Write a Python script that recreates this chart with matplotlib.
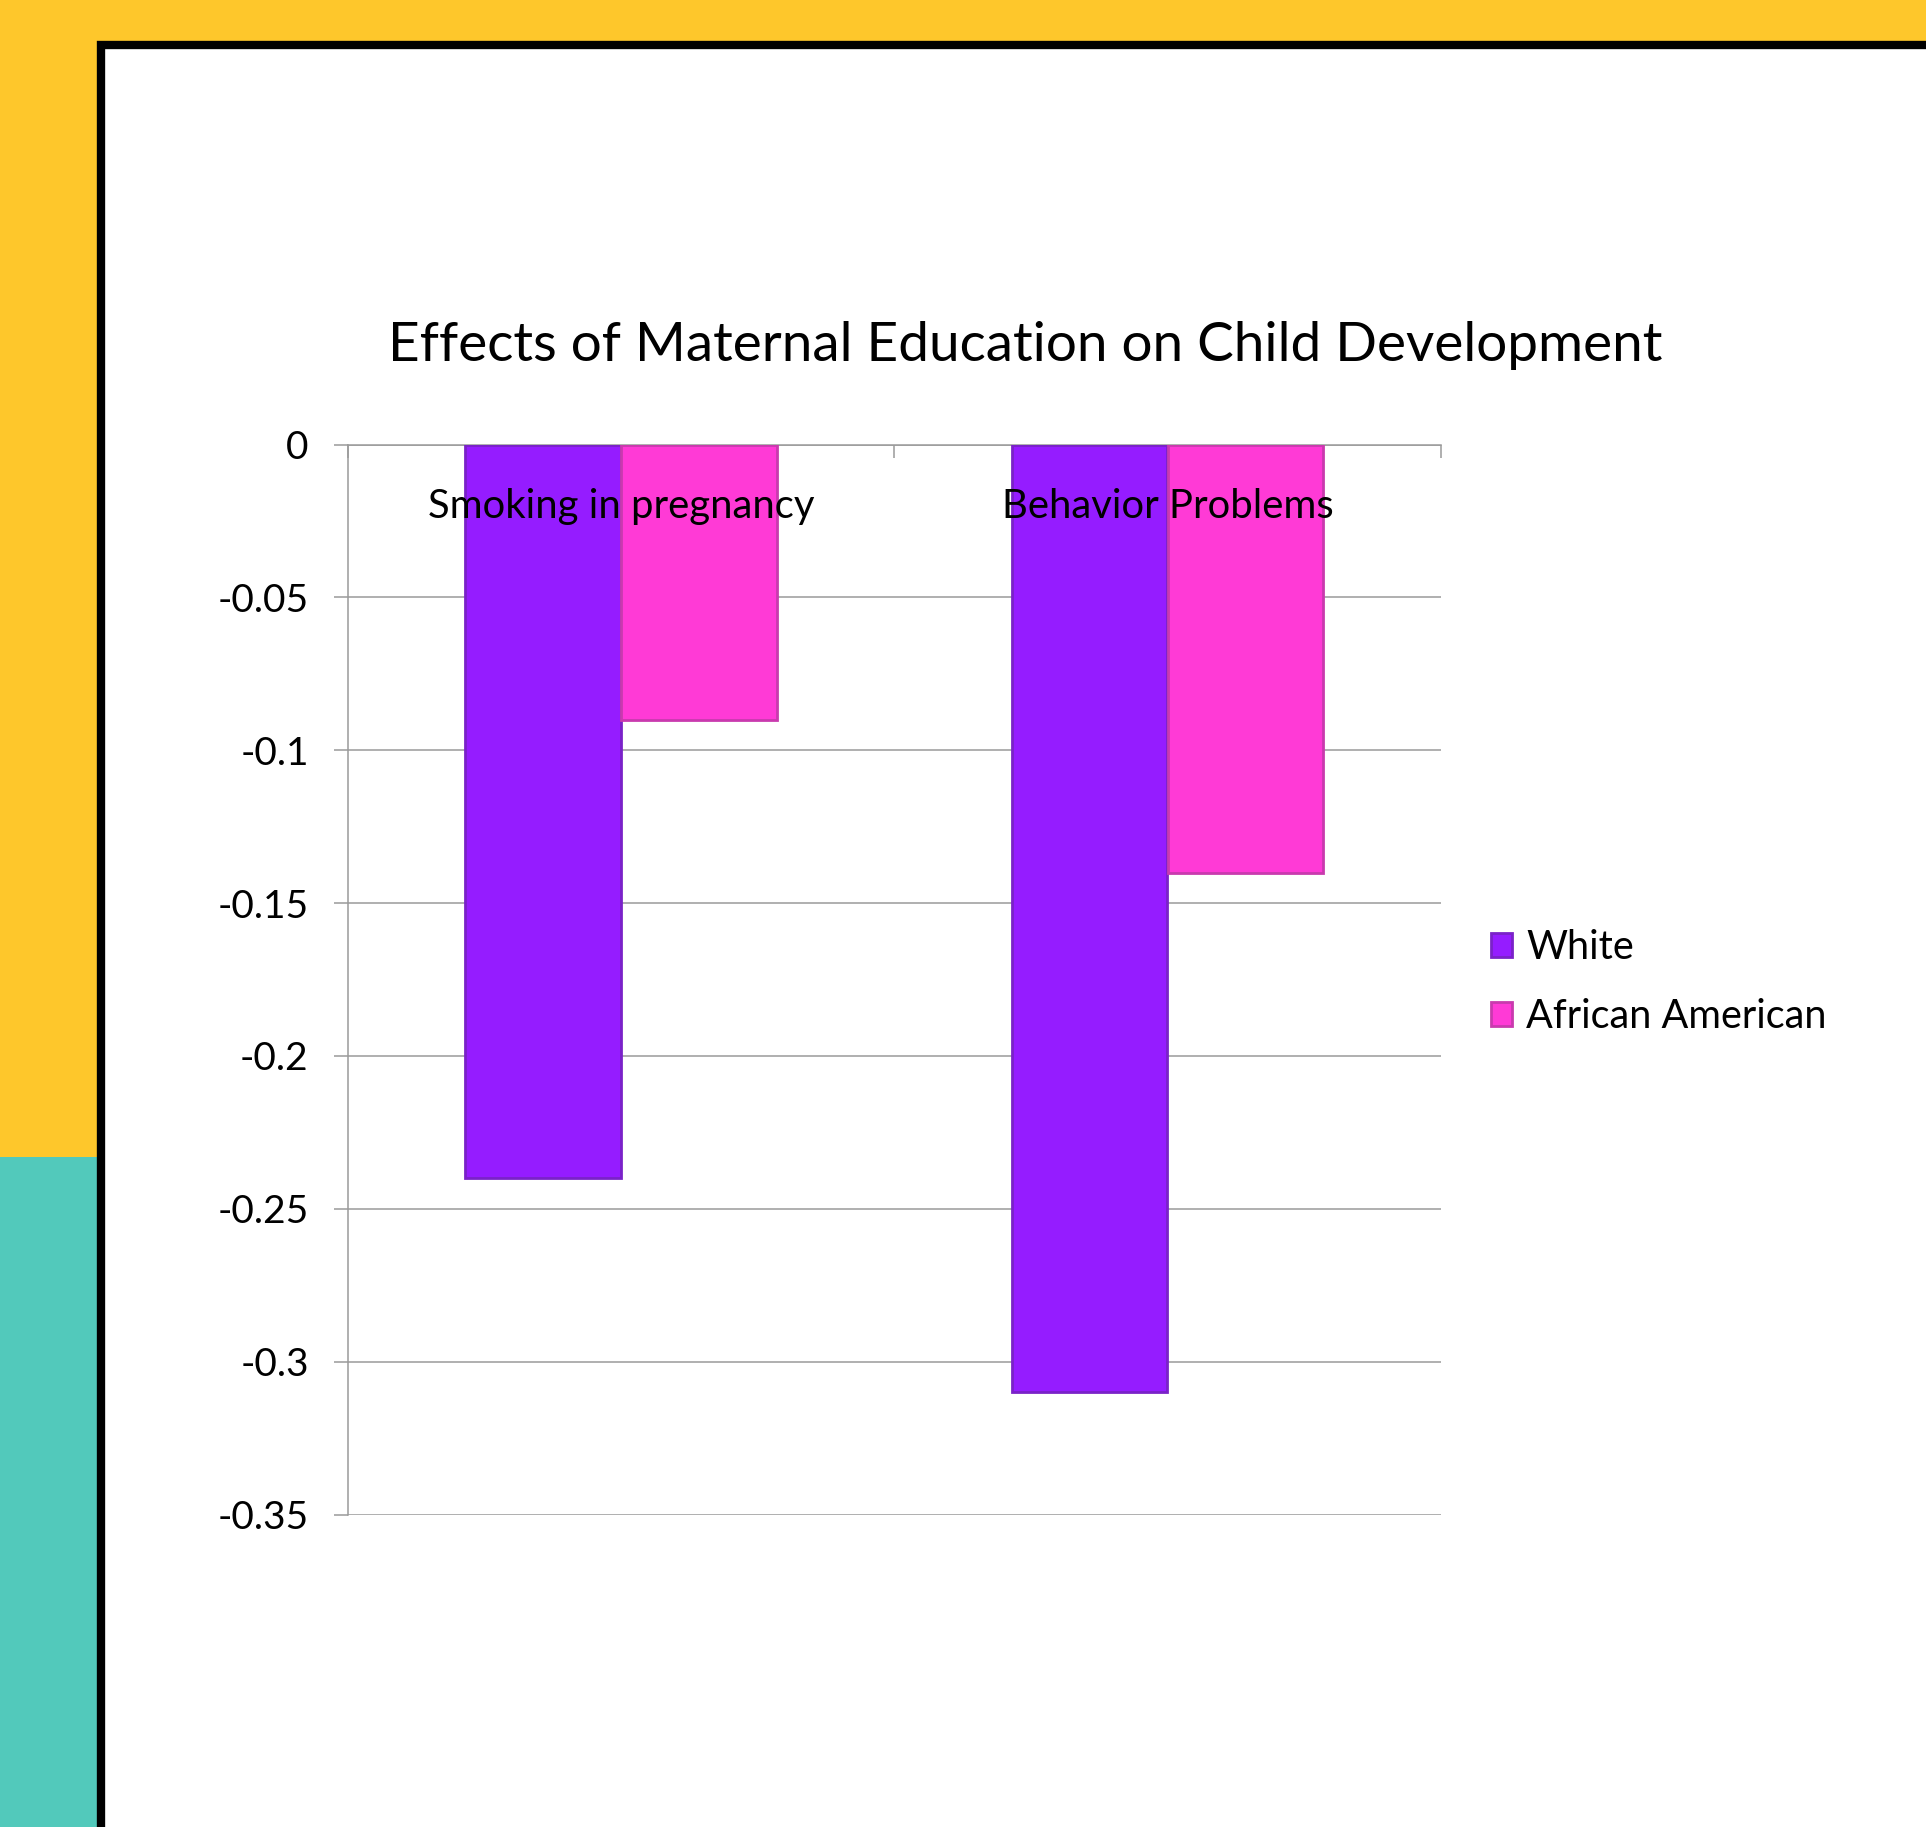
import numpy as np
import matplotlib
matplotlib.use('Agg')
import matplotlib.pyplot as plt
from matplotlib.patches import Rectangle
from matplotlib.transforms import blended_transform_factory, offset_copy

# data
categories = ['Smoking in pregnancy', 'Behavior Problems']
white = [-0.24, -0.31]
african_american = [-0.09, -0.14]
series_names = ['White', 'African American']
y_ticks = [0, -0.05, -0.1, -0.15, -0.2, -0.25, -0.3, -0.35]
y_labels = ['0', '-0.05', '-0.1', '-0.15', '-0.2', '-0.25', '-0.3', '-0.35']
title = 'Effects of Maternal Education on Child Development'

W, H = 1926, 1827
plt.rcParams['font.family'] = ['Lato', 'DejaVu Sans']

fig = plt.figure(figsize=(W / 100, H / 100), dpi=100)
fig.patch.set_facecolor('#FEC72B')

# slide background: teal block lower left, white panel with black frame
fig.patches.append(Rectangle((0, 0), 101 / W, 1 - 1157 / H, transform=fig.transFigure,
                             facecolor='#52C9BB', edgecolor='none', zorder=0))
fig.patches.append(Rectangle((101 / W, -0.05), 1.0, 1 - 45 / H + 0.05, transform=fig.transFigure,
                             facecolor='white', edgecolor='black', linewidth=6, zorder=1))

ax = fig.add_axes([347.6 / W, 1 - 1514.5 / H, (1440.8 - 347.6) / W, (1514.5 - 444.6) / H])
ax.set_zorder(2)
ax.patch.set_alpha(0)

x = np.arange(len(categories))
bw = 0.285
c_white = '#951CFF'
c_aa = '#FF3AD6'
ax.bar(x - bw / 2, white, bw, color=c_white, edgecolor='#7A22C8', linewidth=2,
       label=series_names[0], zorder=3)
ax.bar(x + bw / 2, african_american, bw, color=c_aa, edgecolor='#C93AAE', linewidth=2,
       label=series_names[1], zorder=3)

ax.set_xlim(-0.5, len(categories) - 0.5)
ax.set_ylim(-0.35, 0)
ax.set_yticks(y_ticks)
ax.set_yticklabels(y_labels, fontsize=28)
ax.yaxis.grid(True, color='#9A9A9A', linewidth=1.1, zorder=1)
ax.tick_params(axis='y', length=10, width=1.1, color='#9A9A9A', pad=18)

# x axis sits at the top (y = 0), with inward ticks between categories
ax.xaxis.set_ticks_position('top')
ax.set_xticks(np.arange(len(categories) + 1) - 0.5)
ax.set_xticklabels([])
ax.tick_params(axis='x', direction='in', length=9, width=1.1, color='#9A9A9A')

for s in ['right', 'bottom']:
    ax.spines[s].set_visible(False)
ax.spines['left'].set_color('#9A9A9A')
ax.spines['left'].set_linewidth(1.1)
ax.spines['top'].set_color('#9A9A9A')
ax.spines['top'].set_linewidth(1.1)

trans = offset_copy(blended_transform_factory(ax.transData, ax.transAxes), fig=fig,
                    y=-44.5, units='points')
for i, c in enumerate(categories):
    ax.text(x[i], 1.0, c, transform=trans, ha='center', va='center', fontsize=28.8, zorder=5)

fig.text(1025 / W, 1 - 346 / H, title, ha='center', va='center', fontsize=39.5, zorder=5)

fig.legend(loc='center left', bbox_to_anchor=(1455 / W, 1 - 982 / H), frameon=False,
           fontsize=28.5, handlelength=0.55, handleheight=0.55, handletextpad=0.35,
           labelspacing=0.82)

fig.savefig('out.png', dpi=100, facecolor=fig.get_facecolor())
